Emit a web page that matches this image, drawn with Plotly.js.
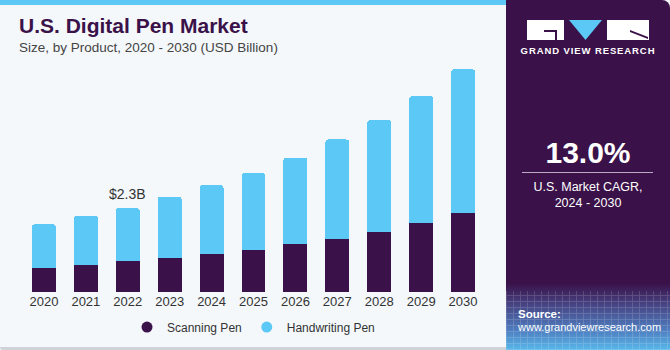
<!DOCTYPE html>
<html>
<head>
<meta charset="utf-8">
<script src="https://cdn.plot.ly/plotly-3.0.1.min.js"></script>
<style>
  html, body { margin:0; padding:0; width:670px; height:350px; overflow:hidden; background:#f4f8fb; font-family:"Liberation Sans", Arial, sans-serif; }
  #wrap { position:relative; width:670px; height:350px; }
  #chart { position:absolute; left:0; top:0; width:670px; height:350px; }
  #stripe { position:absolute; left:0; top:0; width:506px; height:5px; background:#5bc8f5; }
  #bottomline { position:absolute; left:0; top:347px; width:506px; height:3px; background:#d0d4d8; border-bottom-left-radius:6px; }
  #panel { position:absolute; left:506px; top:0; width:164px; height:350px; background:#3a1148; border-top-right-radius:8px; overflow:hidden; }
  #src { position:absolute; left:0; top:283px; width:164px; height:67px;
         background:linear-gradient(to bottom, #3a1148 0%, #46407f 30%, #4f80c2 72%, #58b8ea 100%); }
  #mesh { position:absolute; left:0; top:8px; width:100%; height:59px; opacity:0.16;
         background-image:repeating-linear-gradient(90deg, rgba(255,255,255,0.9) 0 1px, transparent 1px 7px),
                          repeating-linear-gradient(0deg, rgba(255,255,255,0.9) 0 1px, transparent 1px 6px); }
  .ptxt { position:absolute; color:#fff; text-align:center; width:164px; left:0; }
</style>
</head>
<body>
<div id="wrap">
  <div id="chart"></div>
  <div id="stripe"></div>
  <div id="bottomline"></div>
  <div id="panel">
    <div id="src"><div id="mesh"></div></div>
    <svg style="position:absolute;left:21px;top:20px" width="122" height="22" viewBox="0 0 122 22">
      <rect x="0" y="0" width="37" height="20" fill="#fff"/>
      <path d="M17 12 L17 10 L30 10 L30 20 L28 20 L28 12 Z" fill="#3a1148"/>
      <polygon points="42,0 75,0 58.5,20" fill="#5bc8f5"/>
      <rect x="80" y="0" width="42" height="20" fill="#fff"/>
      <path d="M103 10 L121 17 L121 19 L103 12 Z" fill="#3a1148"/>
    </svg>
    <div class="ptxt" style="top:45px;font-size:9.5px;font-weight:bold;letter-spacing:0.9px;">GRAND VIEW RESEARCH</div>
    <div class="ptxt" style="top:136px;font-size:30px;font-weight:bold;">13.0%</div>
    <div style="position:absolute;left:16px;top:172px;width:131px;height:1px;background:#b9a9c2;"></div>
    <div class="ptxt" style="top:179px;font-size:12.5px;line-height:16px;">U.S. Market CAGR,<br>2024 - 2030</div>
    <div style="position:absolute;left:12px;top:308px;color:#fff;font-size:11.5px;font-weight:bold;">Source:</div>
    <div style="position:absolute;left:12px;top:321px;color:#fff;font-size:11px;">www.grandviewresearch.com</div>
  </div>
</div>
<script>
const years = ["2020","2021","2022","2023","2024","2025","2026","2027","2028","2029","2030"];
const scanningPen = [0.65, 0.73, 0.85, 0.93, 1.04, 1.15, 1.31, 1.47, 1.66, 1.89, 2.16];
const handwritingPen = [1.21, 1.36, 1.45, 1.69, 1.90, 2.12, 2.38, 2.72, 3.06, 3.49, 3.96];
const seriesNames = ["Scanning Pen", "Handwriting Pen"];
const colors = ["#3a1148", "#5bc8f5"];
const labelIndex = 2;
const labelText = "$2.3B";

const traces = [
  {type:"bar", x:years, y:scanningPen, name:seriesNames[0], marker:{color:colors[0], line:{width:0}}, showlegend:false, hoverinfo:"skip"},
  {type:"bar", x:years, y:handwritingPen, name:seriesNames[1], marker:{color:colors[1], line:{width:0}}, showlegend:false, hoverinfo:"skip"},
  {type:"scatter", mode:"markers", x:[null], y:[null], name:seriesNames[0], marker:{color:colors[0], size:11, symbol:"circle"}},
  {type:"scatter", mode:"markers", x:[null], y:[null], name:seriesNames[1], marker:{color:colors[1], size:11, symbol:"circle"}}
];

const layout = {
  width:670, height:350,
  margin:{l:23, r:186, t:60, b:58, autoexpand:false},
  paper_bgcolor:"#f4f8fb", plot_bgcolor:"#f4f8fb",
  barmode:"stack", bargap:0.43, barcornerradius:3,
  font:{family:"Liberation Sans, Arial, sans-serif", color:"#333"},
  xaxis:{type:"category", range:[-0.5,10.5], showgrid:false, showline:false, zeroline:false, ticks:"", tickfont:{size:13, color:"#333"}, fixedrange:true},
  yaxis:{range:[0,6.374], visible:false, fixedrange:true},
  showlegend:true,
  legend:{orientation:"h", traceorder:"normal", x:0.5, xanchor:"center", y:-0.151, yanchor:"middle", font:{size:12, color:"#333"}, itemwidth:30, tracegroupgap:0},
  annotations:[
    {x:labelIndex, y:scanningPen[labelIndex]+handwritingPen[labelIndex], xref:"x", yref:"y", text:labelText, showarrow:false, yanchor:"bottom", yshift:4, font:{size:14, color:"#333"}},
    {xref:"paper", yref:"paper", x:-0.013, y:1.147, xanchor:"left", yanchor:"middle", text:"<b>U.S. Digital Pen Market</b>", showarrow:false, font:{size:21, color:"#3a1148", family:"Liberation Sans, Arial, sans-serif"}},
    {xref:"paper", yref:"paper", x:-0.013, y:1.056, xanchor:"left", yanchor:"middle", text:"Size, by Product, 2020 - 2030 (USD Billion)", showarrow:false, font:{size:13.5, color:"#444"}}
  ]
};
Plotly.newPlot("chart", traces, layout, {displayModeBar:false, staticPlot:true});
</script>
</body>
</html>
